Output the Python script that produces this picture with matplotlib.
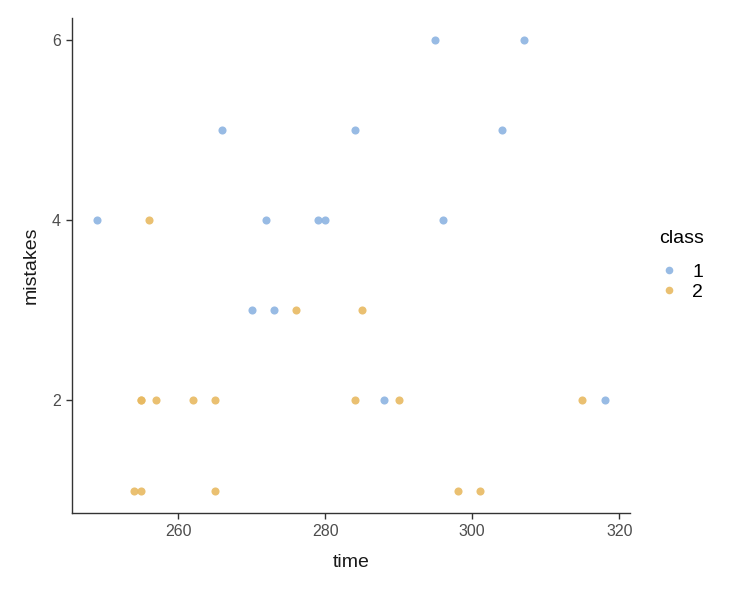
import matplotlib.pyplot as plt
from matplotlib.lines import Line2D

plt.rcParams['font.family'] = ['Liberation Sans', 'DejaVu Sans']

# class 1 points
time_1 = [249, 266, 272, 270, 273, 279, 280, 284, 295, 296, 288, 304, 307, 318]
mistakes_1 = [4, 5, 4, 3, 3, 4, 4, 5, 6, 4, 2, 5, 6, 2]

# class 2 points
time_2 = [256, 276, 285, 255, 255, 257, 262, 265, 284, 290, 315, 254, 255, 265, 298, 301]
mistakes_2 = [4, 3, 3, 2, 2, 2, 2, 2, 2, 2, 2, 1, 1, 1, 1, 1]

classes = ['1', '2']
colors = ['#8DB4E2', '#E8BA62']

fig = plt.figure(figsize=(7.35, 5.92), dpi=100)
ax = fig.add_axes([0.098, 0.1334, 0.759, 0.8366])

ax.scatter(time_1, mistakes_1, s=34, color=colors[0], alpha=0.9, linewidths=0)
ax.scatter(time_2, mistakes_2, s=34, color=colors[1], alpha=0.9, linewidths=0)

ax.set_xlim(245.55, 321.45)
ax.set_ylim(0.75, 6.25)
ax.set_xticks([260, 280, 300, 320])
ax.set_yticks([2, 4, 6])

for side in ['top', 'right']:
    ax.spines[side].set_visible(False)
for side in ['left', 'bottom']:
    ax.spines[side].set_color('#333333')
    ax.spines[side].set_linewidth(1.0)

ax.tick_params(axis='both', colors='#333333', labelcolor='#4D4D4D',
               labelsize=11.5, length=4, width=1.0, pad=4)
ax.set_xlabel('time', fontsize=14, color='#1a1a1a', labelpad=11)
ax.set_ylabel('mistakes', fontsize=14, color='#1a1a1a', labelpad=9)

handles = [Line2D([], [], marker='o', linestyle='', markersize=5.5,
                  markerfacecolor=c, markeredgewidth=0, alpha=0.9) for c in colors]
leg = fig.legend(handles, classes, title='class', loc='center left',
                 bbox_to_anchor=(0.873, 0.552), frameon=False, fontsize=14,
                 title_fontsize=14, handletextpad=0.7, labelspacing=0.12,
                 handlelength=1.0)
leg._legend_box.align = 'left'
leg._legend_box.sep = 12

fig.savefig('out.png', dpi=100)
